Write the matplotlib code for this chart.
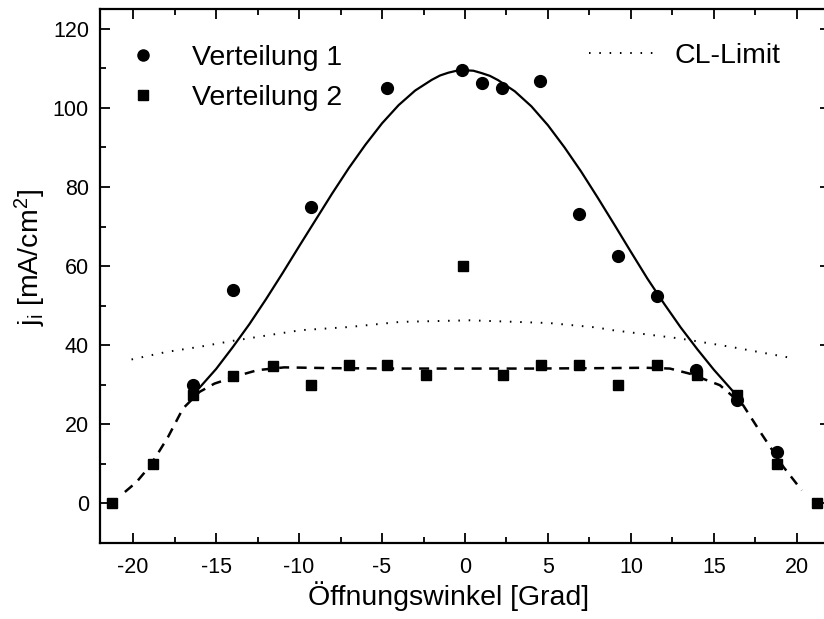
import numpy as np
import matplotlib
matplotlib.use("Agg")
import matplotlib.pyplot as plt
from matplotlib.lines import Line2D

plt.rcParams['font.family'] = ['Liberation Sans', 'DejaVu Sans']
plt.rcParams['mathtext.fontset'] = 'custom'
plt.rcParams['mathtext.rm'] = 'Liberation Sans'
plt.rcParams['mathtext.it'] = 'Liberation Sans'
plt.rcParams['axes.unicode_minus'] = False

# measured points, Verteilung 1 (circles)
v1_x = [-16.4, -14.0, -9.3, -4.7, -0.2, 1.0, 2.2, 4.5, 6.9, 9.2, 11.6, 13.9, 16.4, 18.8]
v1_y = [30.0, 54.0, 75.0, 105.0, 109.5, 106.3, 105.1, 106.7, 73.2, 62.6, 52.4, 33.8, 26.1, 13.0]

# measured points, Verteilung 2 (squares)
v2_x = [-21.3, -18.8, -16.4, -14.0, -11.6, -9.3, -7.0, -4.7, -2.35, -0.1,
        2.3, 4.6, 6.9, 9.2, 11.6, 14.0, 16.4, 18.8, 21.2]
v2_y = [0.0, 10.0, 27.3, 32.2, 34.8, 29.9, 34.9, 34.9, 32.4, 60.1,
        32.4, 34.9, 34.9, 29.9, 35.1, 32.4, 27.3, 10.0, 0.0]

# fit curve for Verteilung 1 (solid)
fit1_x = [-16.1, -15, -14, -13, -12, -11, -10, -9, -8, -7, -6, -5, -4, -3, -2, -1.5, -1, -0.5, 0,
          0.5, 1, 1.5, 2, 3, 4, 5, 6, 7, 8, 9, 10, 11, 12, 13, 14, 15, 16.1]
fit1_y = [28.8, 34.0, 39.5, 45.3, 51.6, 58.2, 65.0, 71.7, 78.4, 84.8, 90.7, 96.1, 100.7,
          104.4, 107.1, 108.2, 108.9, 109.4, 109.5, 109.4, 108.8, 108.1, 107.0, 104.2,
          100.4, 95.6, 90.0, 83.9, 77.3, 70.5, 63.6, 56.8, 50.5, 44.5, 39.0, 33.8, 28.6]

# fit curve for Verteilung 2 (dashed)
fit2_x = [-20.5, -19.8, -19.0, -18.4, -17.9, -17.0, -16.0, -15.1, -13.6, -12.5, -10.9, -8, -4, 0,
          4, 8, 10.9, 12.35, 13.55, 15.36, 16.77, 17.87, 19.2, 20.3]
fit2_y = [2.9, 5.4, 9.4, 13.4, 16.8, 24.0, 28.2, 30.3, 32.4, 33.7, 34.4, 34.2, 34.1, 34.1,
          34.1, 34.2, 34.3, 34.1, 32.8, 29.9, 24.8, 17.6, 9.2, 3.3]

# CL-Limit (dotted)
cl_x = [-20.1, -18, -16, -14, -11.9, -9.9, -7.0, -3.9, 0.3, 5.1, 7.9, 8.9, 12.95, 16.0, 19.9]
cl_y = [36.4, 38.3, 39.6, 41.1, 42.5, 43.8, 44.6, 45.9, 46.3, 45.6, 44.5, 43.8, 41.7, 39.6, 36.6]

W, H = 824, 619
fig = plt.figure(figsize=(W / 100, H / 100), dpi=100)
ax = fig.add_axes([100 / W, 1 - 543 / H, 730 / W, 534 / H])

ax.plot(fit1_x, fit1_y, color='black', lw=1.6)
ax.plot(fit2_x, fit2_y, color='black', lw=1.8, linestyle=(0, (4, 3)))
ax.plot(cl_x, cl_y, color='black', lw=1.4, linestyle=(0, (0.8, 4.5)))
ax.plot(v1_x, v1_y, 'o', color='black', ms=8.5, clip_on=False)
ax.plot(v2_x, v2_y, 's', color='black', ms=7.8, clip_on=False)

ax.set_xlim(-22, 22)
ax.set_ylim(-10, 125)
ax.set_xticks(range(-20, 21, 5))
ax.set_xticks(np.arange(-20, 21, 2.5), minor=True)
ax.set_yticks(range(0, 121, 20))
ax.set_yticks(range(-10, 125, 10), minor=True)
ax.tick_params(which='both', direction='in', top=True, right=True, width=1.3, labelsize=15.5)
ax.tick_params(which='major', length=7)
ax.tick_params(which='minor', length=4)
ax.tick_params(axis='x', pad=10)
ax.tick_params(axis='y', pad=8)
for s in ax.spines.values():
    s.set_linewidth(1.6)

fig.text(449 / W, 1 - 596 / H, 'Öffnungswinkel [Grad]', fontsize=20.5, ha='center', va='center')
fig.text(30 / W, 1 - 258 / H, r'j$_\mathrm{i}$ [mA/cm$^2$]', fontsize=20.5, rotation=90,
         ha='center', va='center')

h1 = Line2D([], [], marker='o', color='black', ls='none', ms=8)
h2 = Line2D([], [], marker='s', color='black', ls='none', ms=7)
leg1 = ax.legend([h1, h2], ['Verteilung 1', 'Verteilung 2'], loc='upper left',
                 bbox_to_anchor=(129 / W, 1 - 45 / H), bbox_transform=fig.transFigure,
                 frameon=False, fontsize=20.5, handlelength=1.0, handletextpad=1.2,
                 labelspacing=0.48, borderpad=0, borderaxespad=0)
ax.add_artist(leg1)
h3 = Line2D([], [], color='black', lw=1.4, linestyle=(0, (0.8, 4.5)))
ax.legend([h3], ['CL-Limit'], loc='upper right',
          bbox_to_anchor=(781 / W, 1 - 43 / H), bbox_transform=fig.transFigure,
          frameon=False, fontsize=20.5, handlelength=2.42, handletextpad=0.6,
          borderpad=0, borderaxespad=0)

fig.savefig('out.png', dpi=100)
